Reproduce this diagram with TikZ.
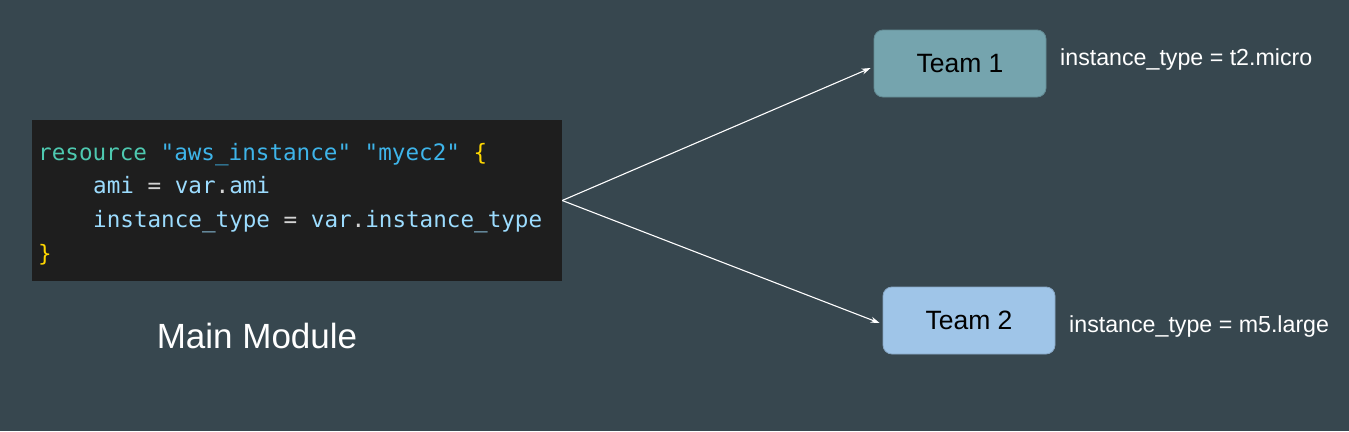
\documentclass[tikz,border=0pt]{standalone}
\usepackage{fontspec}
\setmainfont{Liberation Sans}
\newfontfamily\codefont{DejaVu Sans Mono}
\usetikzlibrary{arrows.meta}
\definecolor{bg}{RGB}{55,71,79}
\definecolor{codebg}{RGB}{30,30,30}
\definecolor{kw}{RGB}{78,201,176}
\definecolor{str}{RGB}{62,180,233}
\definecolor{ident}{RGB}{156,220,254}
\definecolor{op}{RGB}{212,212,212}
\definecolor{brace}{RGB}{255,215,0}
\definecolor{teamone}{RGB}{117,164,174}
\definecolor{teamtwo}{RGB}{159,197,232}
\tikzset{
  codeline/.style={anchor=base west, inner sep=0pt, font=\codefont\fontsize{22.6}{26}\selectfont},
  teambox/.style={rounded corners=9pt, minimum width=172pt, minimum height=67pt, inner sep=0pt, font=\fontsize{26.5}{31}\selectfont, text=black, line width=0.8pt},
  note/.style={anchor=base west, inner sep=0pt, text=white, font=\fontsize{23.2}{28}\selectfont},
  conn/.style={draw=white, line width=1.1pt, -{Stealth[length=9pt,width=6pt]}}
}
\begin{document}
\begin{tikzpicture}[x=1pt,y=-1pt]
\fill[bg] (0,0) rectangle (1349,431);
\useasboundingbox (0,0) rectangle (1349,431);
\node[fill=codebg, inner sep=0pt, minimum width=530pt, minimum height=161pt] (code) at (297,200.5) {};
\node[codeline] (l1) at (38,160) {\color{kw}resource \color{str}"aws\_instance" "myec2" \color{brace}\{};
\node[codeline] (l2) at (93,193.5) {\color{ident}ami \color{op}= \color{ident}var\color{op}.\color{ident}ami};
\node[codeline] (l3) at (93,227) {\color{ident}instance\_type \color{op}= \color{ident}var\color{op}.\color{ident}instance\_type};
\node[codeline] (l4) at (38,261) {\color{brace}\}};
\node[text=white, inner sep=0pt, font=\fontsize{35}{41}\selectfont] (main) at (257,336) {Main Module};
\node[teambox, fill=teamone, draw=teamone!85!black] (team1) at (960,63.5) {Team 1};
\node[teambox, fill=teamtwo, draw=teamtwo!85!black] (team2) at (969,320.5) {Team 2};
\node[note] (n1) at (1060,65) {instance\_type = t2.micro};
\node[note] (n2) at (1069,332) {instance\_type = m5.large};
\draw[conn] (code.east) -- ([xshift=-3pt,yshift=-4.5pt]team1.west);
\draw[conn] (code.east) -- ([xshift=-3pt,yshift=-2.5pt]team2.west);
\end{tikzpicture}
\end{document}
